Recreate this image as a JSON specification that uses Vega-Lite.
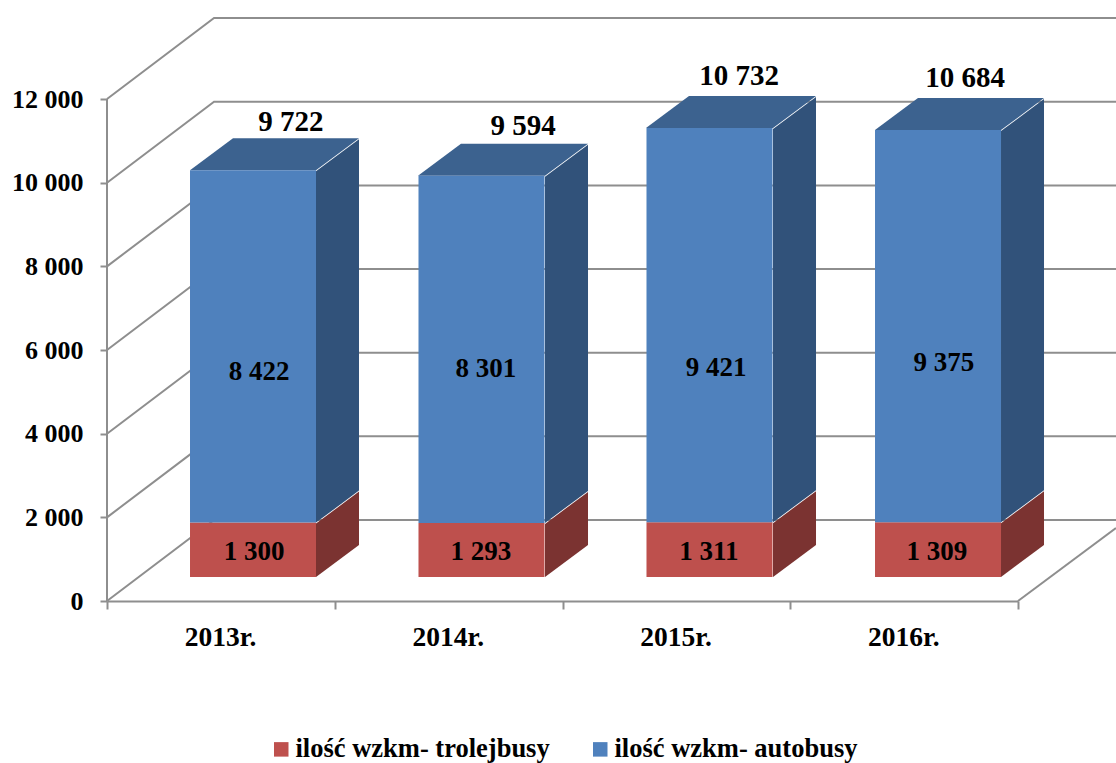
{"$schema":"https://vega.github.io/schema/vega-lite/v6.json","width":911,"height":601,"autosize":{"type":"none"},"padding":{"left":107,"top":0,"right":98,"bottom":162},"background":"white","config":{"view":{"stroke":null},"text":{"font":"Liberation Serif"},"scale":{"continuousPadding":0}},
"datasets":{
"walls":[
{"id":"g0","x":0,"y":0},{"id":"g0","x":0.47,"y":1936},{"id":"g0","x":4.44,"y":1936},
{"id":"g2","x":0,"y":2000},{"id":"g2","x":0.47,"y":3936},{"id":"g2","x":4.44,"y":3936},
{"id":"g4","x":0,"y":4000},{"id":"g4","x":0.47,"y":5936},{"id":"g4","x":4.44,"y":5936},
{"id":"g6","x":0,"y":6000},{"id":"g6","x":0.47,"y":7936},{"id":"g6","x":4.44,"y":7936},
{"id":"g8","x":0,"y":8000},{"id":"g8","x":0.47,"y":9936},{"id":"g8","x":4.44,"y":9936},
{"id":"g10","x":0,"y":10000},{"id":"g10","x":0.47,"y":11936},{"id":"g10","x":4.44,"y":11936},
{"id":"g12","x":0,"y":12000},{"id":"g12","x":0.47,"y":13936},{"id":"g12","x":4.44,"y":13936},
{"id":"floor","x":4,"y":0},{"id":"floor","x":4.43,"y":1745},
{"id":"axis","x":0,"y":0},{"id":"axis","x":0,"y":12000}],
"sides":[
{"id":"2013 r","face":"side red","x":0.9177,"low":550,"high":1850},{"id":"2013 r","face":"side red","x":1.1065,"low":1315,"high":2615},
{"id":"2013 b","face":"side blue","x":0.9177,"low":1850,"high":10272},{"id":"2013 b","face":"side blue","x":1.1065,"low":2615,"high":11037},
{"id":"2014 r","face":"side red","x":1.9232,"low":550,"high":1843},{"id":"2014 r","face":"side red","x":2.112,"low":1315,"high":2608},
{"id":"2014 b","face":"side blue","x":1.9232,"low":1843,"high":10144},{"id":"2014 b","face":"side blue","x":2.112,"low":2608,"high":10909},
{"id":"2015 r","face":"side red","x":2.9243,"low":550,"high":1861},{"id":"2015 r","face":"side red","x":3.1131,"low":1315,"high":2626},
{"id":"2015 b","face":"side blue","x":2.9243,"low":1861,"high":11282},{"id":"2015 b","face":"side blue","x":3.1131,"low":2626,"high":12047},
{"id":"2016 r","face":"side red","x":3.9254,"low":550,"high":1859},{"id":"2016 r","face":"side red","x":4.1142,"low":1315,"high":2624},
{"id":"2016 b","face":"side blue","x":3.9254,"low":1859,"high":11234},{"id":"2016 b","face":"side blue","x":4.1142,"low":2624,"high":11999}],
"tops":[
{"id":"2013","y":10272,"left":0.3644,"right":0.9177},{"id":"2013","y":11037,"left":0.5532,"right":1.1065},
{"id":"2014","y":10144,"left":1.3655,"right":1.9232},{"id":"2014","y":10909,"left":1.5543,"right":2.112},
{"id":"2015","y":11282,"left":2.3666,"right":2.9243},{"id":"2015","y":12047,"left":2.5554,"right":3.1131},
{"id":"2016","y":11234,"left":3.3721,"right":3.9254},{"id":"2016","y":11999,"left":3.5609,"right":4.1142}],
"bars":[
{"year":"2013r.","pos":0.6411,"series":"ilość wzkm- trolejbusy","value":1300},{"year":"2013r.","pos":0.6411,"series":"ilość wzkm- autobusy","value":8422},
{"year":"2014r.","pos":1.6443,"series":"ilość wzkm- trolejbusy","value":1293},{"year":"2014r.","pos":1.6443,"series":"ilość wzkm- autobusy","value":8301},
{"year":"2015r.","pos":2.6454,"series":"ilość wzkm- trolejbusy","value":1311},{"year":"2015r.","pos":2.6454,"series":"ilość wzkm- autobusy","value":9421},
{"year":"2016r.","pos":3.6488,"series":"ilość wzkm- trolejbusy","value":1309},{"year":"2016r.","pos":3.6488,"series":"ilość wzkm- autobusy","value":9375}],
"totals":[
{"label":"9 722","x":0.8079,"y":11463},{"label":"9 594","x":1.8266,"y":11344},{"label":"10 732","x":2.775,"y":12563},{"label":"10 684","x":3.7673,"y":12515}],
"inner":[
{"label":"8 422","x":0.6674,"y":5463},{"label":"8 301","x":1.6641,"y":5558},{"label":"9 421","x":2.674,"y":5582},{"label":"9 375","x":3.675,"y":5678},
{"label":"1 300","x":0.6455,"y":1183},{"label":"1 293","x":1.6421,"y":1183},{"label":"1 311","x":2.6432,"y":1183},{"label":"1 309","x":3.6443,"y":1183}]
},
"layer":[
{"data":{"name":"walls"},"mark":{"type":"line","color":"#8E8E8E","strokeWidth":2,"clip":false},
"encoding":{
"x":{"field":"x","type":"quantitative","title":null,"scale":{"domain":[0,4],"nice":false,"zero":false},
"axis":{"values":[0,1,2,3,4],"grid":false,"domain":true,"domainColor":"#8E8E8E","domainWidth":2,"tickColor":"#8E8E8E","tickWidth":2,"tickSize":8,"labelFont":"Liberation Serif","labelFontWeight":"bold","labelFontSize":27.5,"labelColor":"black","labelPadding":14,"labelOffset":113,"labelBound":false,"labelFlush":false,"labelOverlap":false,"labelExpr":"datum.value<4?(2013+datum.value)+'r.':''"}},
"y":{"field":"y","type":"quantitative","title":null,"scale":{"domain":[0,14368],"nice":false,"zero":false},
"axis":{"values":[0,2000,4000,6000,8000,10000,12000],"grid":false,"domain":false,"tickColor":"#8E8E8E","tickWidth":2,"tickSize":7,"labelFont":"Liberation Serif","labelFontWeight":"bold","labelFontSize":26,"labelColor":"black","labelPadding":17,"labelExpr":"replace(format(datum.value,','),',',' ')"}},
"detail":{"field":"id"}}},
{"data":{"name":"sides"},"mark":{"type":"area","clip":false,"yOffset":-1},
"encoding":{
"x":{"field":"x","type":"quantitative","title":null},
"y":{"field":"low","type":"quantitative","title":null,"stack":null},
"y2":{"field":"high"},
"detail":{"field":"id"},
"color":{"field":"face","type":"nominal","legend":null,"scale":{"domain":["side red","side blue"],"range":["#7B3331","#31527A"]}}}},
{"data":{"name":"tops"},"mark":{"type":"area","orient":"horizontal","color":"#3C628F","clip":false,"yOffset":-1},
"encoding":{
"y":{"field":"y","type":"quantitative","title":null},
"x":{"field":"left","type":"quantitative","title":null,"stack":null},
"x2":{"field":"right"},
"detail":{"field":"id"}}},
{"data":{"name":"bars"},"mark":{"type":"bar","width":126,"yOffset":-24,"clip":false},
"encoding":{
"x":{"field":"pos","type":"quantitative","title":null},
"y":{"field":"value","type":"quantitative","title":null,"stack":"zero"},
"color":{"field":"series","type":"nominal","title":null,"scale":{"domain":["ilość wzkm- trolejbusy","ilość wzkm- autobusy"],"range":["#BE504D","#4F81BD"]},
"legend":{"orient":"none","legendX":161,"legendY":736,"direction":"horizontal","columns":2,"columnPadding":37,"symbolType":"square","symbolSize":210,"symbolStrokeWidth":0,"symbolOpacity":1,"labelFont":"Liberation Serif","labelFontWeight":"bold","labelFontSize":26.5,"labelColor":"black","labelLimit":400,"labelOffset":1,"title":null}}}},
{"data":{"name":"inner"},"mark":{"type":"text","font":"Liberation Serif","fontWeight":"bold","fontSize":27,"color":"black","align":"center","baseline":"middle"},
"encoding":{"x":{"field":"x","type":"quantitative","title":null},"y":{"field":"y","type":"quantitative","title":null},"text":{"field":"label"}}},
{"data":{"name":"totals"},"mark":{"type":"text","font":"Liberation Serif","fontWeight":"bold","fontSize":29,"color":"black","align":"center","baseline":"middle"},
"encoding":{"x":{"field":"x","type":"quantitative","title":null},"y":{"field":"y","type":"quantitative","title":null},"text":{"field":"label"}}}
],
"resolve":{"scale":{"color":"independent"}}}
